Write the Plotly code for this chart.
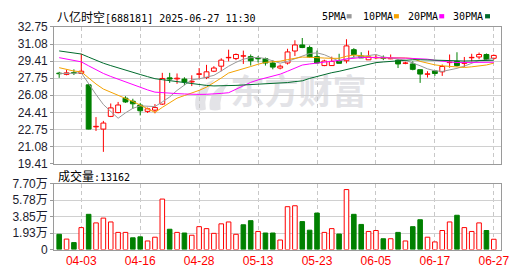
import plotly.graph_objects as go
import pandas as pd

# ---------------- data ----------------
dates = ["03-31", "04-01", "04-02", "04-03", "04-07", "04-08", "04-09", "04-10", "04-11", "04-14",
         "04-15", "04-16", "04-17", "04-18", "04-21", "04-22", "04-23", "04-24", "04-25", "04-28",
         "04-29", "04-30", "05-06", "05-07", "05-08", "05-09", "05-12", "05-13", "05-14", "05-15",
         "05-16", "05-19", "05-20", "05-21", "05-22", "05-23", "05-26", "05-27", "05-28", "05-29",
         "05-30", "06-03", "06-04", "06-05", "06-06", "06-09", "06-10", "06-11", "06-12", "06-13",
         "06-16", "06-17", "06-18", "06-19", "06-20", "06-23", "06-24", "06-25", "06-26", "06-27"]

opens = [28.24, 28.12, 28.29, 28.21, 27.10, 23.00, 22.78, 24.02, 24.39, 25.80,
         25.50, 25.13, 24.51, 24.63, 25.22, 27.78, 27.68, 27.66, 27.38, 28.12,
         27.81, 28.43, 28.92, 29.74, 29.66, 29.90, 29.85, 29.68, 29.66, 29.23,
         28.74, 29.23, 30.40, 30.99, 30.74, 29.85, 28.98, 28.98, 29.45, 29.45,
         30.53, 29.91, 29.54, 29.74, 29.72, 29.64, 29.51, 29.20, 29.14, 28.58,
         28.13, 28.46, 28.37, 29.27, 29.39, 29.20, 29.74, 29.82, 30.06, 29.69]
highs = [28.37, 28.58, 28.61, 30.13, 27.15, 23.95, 23.58, 25.28, 25.43, 25.99,
         25.74, 25.34, 24.88, 25.22, 28.27, 28.27, 28.21, 27.84, 28.03, 28.74,
         29.05, 28.92, 29.69, 30.53, 30.16, 30.44, 30.06, 29.91, 29.76, 29.51,
         29.08, 30.62, 31.45, 31.67, 30.93, 30.44, 29.55, 29.85, 30.13, 31.55,
         30.68, 30.28, 30.44, 30.06, 29.97, 30.06, 29.60, 29.35, 29.39, 28.58,
         28.43, 28.52, 29.08, 30.06, 30.28, 29.82, 30.13, 30.25, 30.16, 30.06]
lows = [27.78, 28.03, 28.06, 28.15, 22.75, 22.60, 20.56, 23.95, 24.32, 25.34,
        24.76, 24.11, 24.35, 24.32, 25.13, 27.29, 27.20, 27.07, 26.98, 27.66,
        27.66, 28.34, 28.43, 29.39, 29.51, 29.14, 28.98, 29.29, 28.98, 28.61,
        28.61, 29.08, 29.91, 30.68, 29.76, 29.20, 28.92, 28.95, 29.20, 29.20,
        29.76, 29.73, 29.54, 29.60, 29.51, 29.60, 28.74, 29.11, 28.52, 27.29,
        27.81, 27.97, 27.97, 28.77, 28.89, 28.83, 29.39, 29.60, 29.51, 29.54]
closes = [28.18, 28.27, 28.25, 28.43, 22.78, 23.05, 23.37, 24.85, 25.13, 25.43,
          25.25, 24.57, 24.76, 24.88, 27.72, 27.66, 27.75, 27.38, 27.45, 28.18,
          28.37, 28.74, 29.51, 29.78, 30.06, 29.93, 29.45, 29.64, 29.23, 28.83,
          28.92, 30.31, 30.99, 30.74, 29.82, 29.23, 29.42, 29.39, 29.20, 30.90,
          30.06, 29.73, 29.82, 29.78, 29.69, 29.68, 29.14, 29.23, 28.61, 28.15,
          28.17, 28.21, 28.89, 29.30, 28.98, 29.25, 29.78, 30.06, 29.57, 29.97]
# closes of the 29 sessions before the window (only used for the moving averages)
prior_closes = [31.1, 31.3, 31.6, 31.9, 32.2, 32.0, 31.8, 32.1, 31.7, 31.5,
                31.2, 31.0, 30.9, 30.6, 30.8, 30.5, 30.7, 30.6, 30.4, 30.6,
                30.2, 29.6, 29.2, 29.0, 28.7, 28.3, 28.1, 28.2, 28.25]

volumes = [1.78, 1.22, 0.81, 2.56, 4.11, 3.11, 3.67, 3.22, 2.00, 2.00,
           1.37, 1.48, 1.00, 1.44, 5.89, 2.37, 2.00, 1.93, 1.67, 2.67,
           2.44, 1.89, 3.00, 3.22, 1.78, 2.89, 3.37, 2.11, 1.93, 1.93,
           1.11, 5.00, 5.11, 3.26, 2.26, 4.26, 2.00, 2.44, 1.81, 7.00,
           4.11, 2.93, 2.11, 2.22, 1.26, 1.26, 2.00, 1.00, 2.67, 3.48,
           1.44, 0.89, 2.22, 3.22, 4.00, 2.56, 2.11, 3.11, 2.22, 1.20]
vol_up = [False, True, False, True, False, True, True, True, True, True,
          False, False, True, True, True, False, True, False, True, True,
          True, True, True, True, True, False, False, True, False, False,
          True, True, True, False, False, False, True, True, False, True,
          False, False, True, True, False, True, False, True, False, False,
          True, True, True, True, False, True, True, True, False, True]

tick_dates = ["04-03", "04-16", "04-28", "05-13", "05-23", "06-05", "06-17", "06-27"]
price_ticks = [19.41, 21.0775, 22.745, 24.4125, 26.08, 27.7475, 29.415, 31.0825, 32.75]
price_labels = ["19.41", "21.08", "22.75", "24.41", "26.08", "27.75", "29.41", "31.08", "32.75"]
vol_ticks = [0, 1.925, 3.85, 5.775, 7.70]
vol_labels = ["0", "1.93万", "3.85万", "5.78万", "7.70万"]
ma_periods = [5, 10, 20, 30]
ma_names = ["5PMA", "10PMA", "20PMA", "30PMA"]
title_text = "八亿时空[688181] 2025-06-27 11:30"
vol_title = "成交量:13162"
watermark = "东方财富"

# ---------------- styles ----------------
W, H = 530, 276
RED, GREEN = "#ff0000", "#008000"
MA_COLORS = ["#999999", "#f5a200", "#ff00ff", "#006b2d"]
GRID = "#d0d0d0"
BORDER = "#9a9a9a"
LABEL = "#1c1c2e"
WM = "#e3e3e7"


def px(x):
    return x / W


def py(y):
    return 1 - y / H


fig = go.Figure()

# candle bodies
up = [c >= o for o, c in zip(opens, closes)]
body_base = [min(o, c) for o, c in zip(opens, closes)]
body_h = [max(abs(c - o), 0.035) for o, c in zip(opens, closes)]
for flag, fill, line in [(True, "white", RED), (False, GREEN, GREEN)]:
    idx = [i for i in range(len(dates)) if up[i] == flag]
    fig.add_trace(go.Bar(
        x=[dates[i] for i in idx], y=[body_h[i] for i in idx], base=[body_base[i] for i in idx],
        width=0.66, marker=dict(color=fill, line=dict(color=line, width=1)),
        xaxis="x", yaxis="y", showlegend=False, hoverinfo="skip"))

# wicks (outside the body only)
for flag, col in [(True, RED), (False, GREEN)]:
    wx, wy = [], []
    for i in range(len(dates)):
        if up[i] != flag:
            continue
        lo_b, hi_b = min(opens[i], closes[i]), max(opens[i], closes[i])
        wx += [dates[i], dates[i], None, dates[i], dates[i], None]
        wy += [lows[i], lo_b, None, hi_b, highs[i], None]
    fig.add_trace(go.Scatter(x=wx, y=wy, mode="lines", line=dict(color=col, width=1),
                             xaxis="x", yaxis="y", showlegend=False, hoverinfo="skip",
                             connectgaps=False))

# moving averages
allc = pd.Series(prior_closes + closes)
for p, col in zip(ma_periods, MA_COLORS):
    ma = allc.rolling(p).mean().iloc[len(prior_closes):].tolist()
    fig.add_trace(go.Scatter(x=dates, y=ma, mode="lines", line=dict(color=col, width=1),
                             xaxis="x", yaxis="y", showlegend=False, hoverinfo="skip"))

# volume
for flag, fill, line in [(True, "white", RED), (False, GREEN, GREEN)]:
    idx = [i for i in range(len(dates)) if vol_up[i] == flag]
    fig.add_trace(go.Bar(
        x=[dates[i] for i in idx], y=[volumes[i] for i in idx],
        width=0.62, marker=dict(color=fill, line=dict(color=line, width=1)),
        xaxis="x2", yaxis="y2", showlegend=False, hoverinfo="skip"))

xr = [-0.68, 60.02]
xdom = [px(55), px(509)]
common_x = dict(type="category", categoryorder="array", categoryarray=dates, range=xr,
                domain=xdom, tickvals=tick_dates, showgrid=True, gridcolor="#c8c8c8",
                griddash="4px,3px", gridwidth=1, showline=True, mirror=True,
                linecolor=BORDER, linewidth=1, zeroline=False, ticks="", fixedrange=True)

fig.update_layout(
    width=W, height=H, margin=dict(l=0, r=0, t=0, b=0),
    paper_bgcolor="white", plot_bgcolor="white", barmode="overlay", showlegend=False,
    xaxis=dict(**common_x, anchor="y", showticklabels=False),
    xaxis2=dict(**common_x, anchor="y2", showticklabels=True, ticktext=tick_dates,
                tickfont=dict(family="Liberation Sans", size=12, color=RED)),
    yaxis=dict(domain=[py(165), py(21)], range=[price_ticks[0], price_ticks[-1]],
               tickvals=price_ticks, ticktext=price_labels, showgrid=True, gridcolor=GRID,
               showline=True, mirror=True, linecolor=BORDER, linewidth=1, zeroline=False,
               ticks="outside", ticklen=3, tickcolor=BORDER,
               tickfont=dict(family="Liberation Sans", size=12, color=LABEL), anchor="x"),
    yaxis2=dict(domain=[py(255.5), py(186)], range=[vol_ticks[0], vol_ticks[-1]],
                tickvals=vol_ticks, ticktext=vol_labels, showgrid=True, gridcolor=GRID,
                showline=True, mirror=True, linecolor=BORDER, linewidth=1, zeroline=False,
                ticks="outside", ticklen=3, tickcolor=BORDER,
                tickfont=dict(family="Liberation Sans, Noto Sans CJK SC", size=12, color=LABEL),
                anchor="x2"),
)

mono = "DejaVu Sans Mono, Noto Sans CJK SC"
cjk_span = '<span style="font-family:Noto Sans CJK SC;font-size:12px">{}</span>'

annotations = []
# title
annotations.append(dict(x=px(55.5), y=py(9.5), xref="paper", yref="paper", xanchor="left",
                        yanchor="middle", showarrow=False,
                        text=cjk_span.format(title_text[:4]) + title_text[4:],
                        font=dict(family=mono, size=10, color="#000")))
# volume title
annotations.append(dict(x=px(57), y=py(177), xref="paper", yref="paper", xanchor="left",
                        yanchor="middle", showarrow=False,
                        text=cjk_span.format(vol_title[:3]) + vol_title[3:],
                        font=dict(family=mono, size=10, color="#000")))
# MA legend
leg_x = [325, 367, 412, 458]
sq_x = [352, 400, 446, 492.5]
shapes = []
for name, col, lx, sx in zip(ma_names, MA_COLORS, leg_x, sq_x):
    annotations.append(dict(x=px(lx), y=py(9.5), xref="paper", yref="paper", xanchor="left",
                            yanchor="middle", showarrow=False, text=name,
                            font=dict(family=mono, size=10, color="#000")))
    shapes.append(dict(type="rect", xref="paper", yref="paper", x0=px(sx), x1=px(sx + 5),
                       y0=py(12), y1=py(7.5), fillcolor=col, line=dict(width=0)))
# watermark text
shapes.append(dict(type="rect", xref="paper", yref="paper", x0=px(230), x1=px(376),
                   y0=py(112), y1=py(72), line=dict(width=0), fillcolor="rgba(0,0,0,0)",
                   layer="below",
                   label=dict(text=watermark, textposition="middle center",
                              font=dict(family="Noto Sans CJK SC", size=34, color=WM,
                                        weight="bold"))))


# watermark logo (two curved strokes)
def pth(points):
    s = "M {},{} ".format(px(points[0][0]), py(points[0][1]))
    for i in range(1, len(points), 2):
        (cx, cy), (ex, ey) = points[i], points[i + 1]
        s += "Q {},{} {},{} ".format(px(cx), py(cy), px(ex), py(ey))
    return s + "Z"


shapes.append(dict(type="path", xref="paper", yref="paper", layer="below", line=dict(width=0),
                   fillcolor=WM,
                   path=pth([(199, 108), (194, 86), (218, 76), (206, 92), (209, 108),
                             (204, 110), (199, 108)])))
shapes.append(dict(type="path", xref="paper", yref="paper", layer="below", line=dict(width=0),
                   fillcolor=WM,
                   path=pth([(213, 108), (210, 88), (232, 80), (222, 94), (224, 108),
                             (218, 110), (213, 108)])))

fig.update_layout(annotations=annotations, shapes=shapes)
fig.write_html("out.html")
